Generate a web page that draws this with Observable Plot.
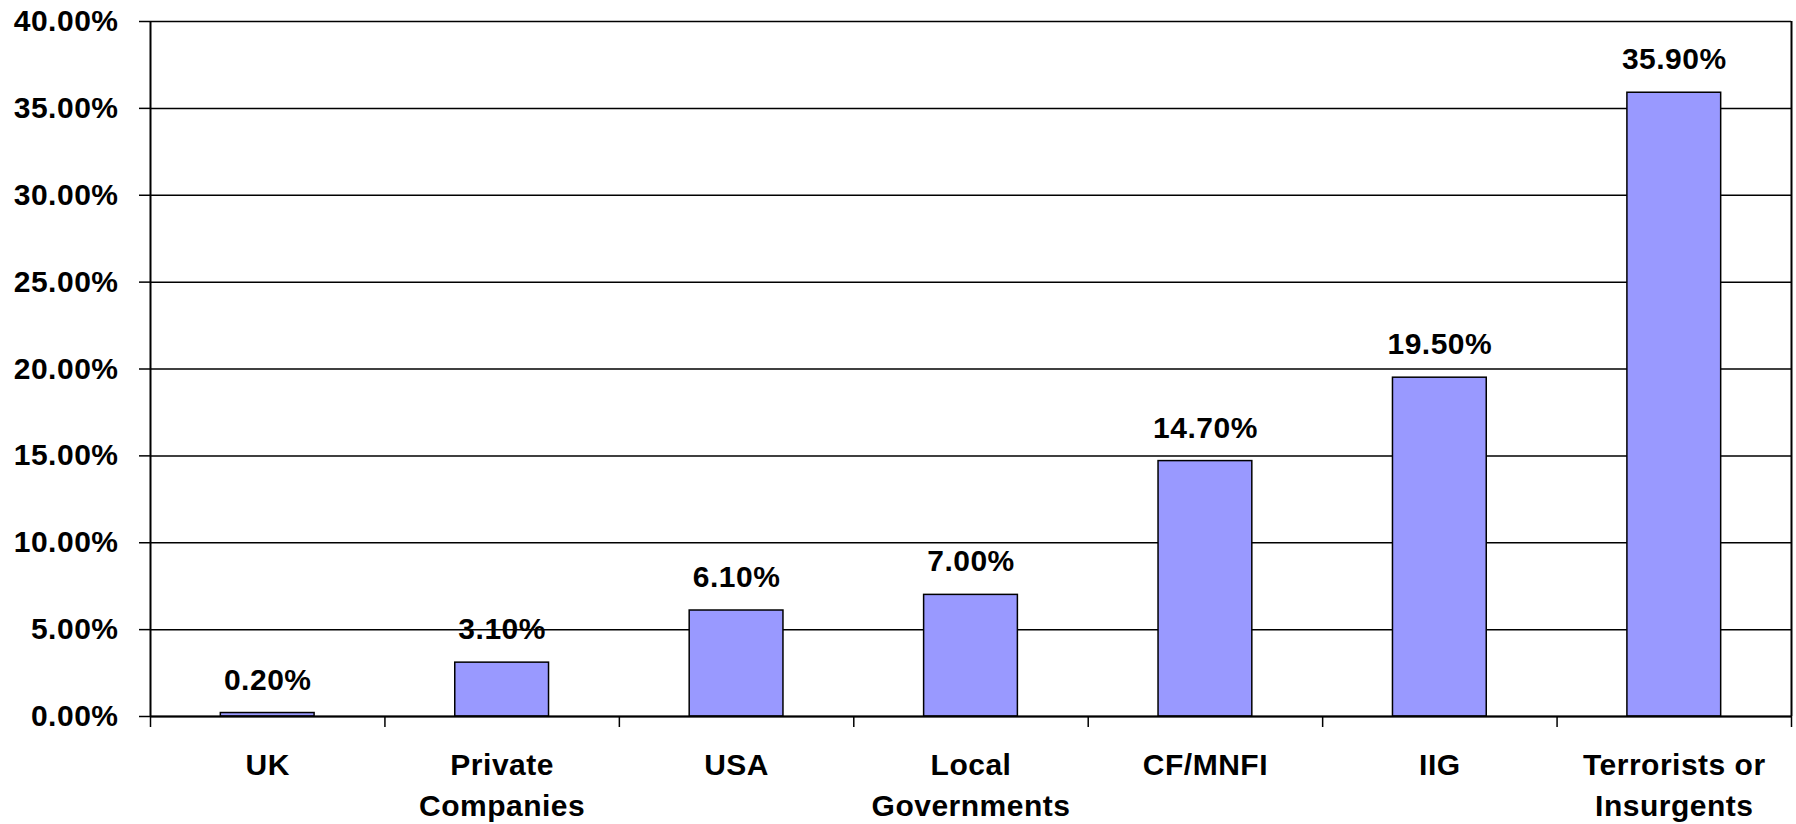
<!DOCTYPE html>
<html><head><meta charset="utf-8">
<script src="https://cdn.jsdelivr.net/npm/d3@7"></script>
<script src="https://cdn.jsdelivr.net/npm/@observablehq/plot@0.6"></script>
<style>body{margin:0;background:#fff}</style>
</head><body><div id="chart"></div>
<script>
const categories = ["UK", "Private\nCompanies", "USA", "Local\nGovernments", "CF/MNFI", "IIG", "Terrorists or\nInsurgents"];
const values = [0.2, 3.1, 6.1, 7.0, 14.7, 19.5, 35.9];
const yTicks = [0, 5, 10, 15, 20, 25, 30, 35, 40];

const data = categories.map((c, i) => ({category: c, index: i, value: values[i]}));
const W = 1796, H = 824, mL = 150, mR = 5, mT = 21, mB = 108;
const band = (W - mL - mR) / categories.length;
const inset = band * 0.3;
const pct = d => d.toFixed(2) + "%";

const chart = Plot.plot({
  width: W, height: H, marginLeft: mL, marginRight: mR, marginTop: mT, marginBottom: mB,
  style: {fontFamily: "'Liberation Sans', Arial, sans-serif", fontWeight: "bold", fontSize: "30px", color: "#000", background: "#fff", letterSpacing: "0.5px"},
  x: {domain: [0, categories.length]},
  y: {domain: [0, 40]},
  marks: [
    Plot.ruleY(yTicks, {stroke: "#000", strokeWidth: 1.5}),
    Plot.rectY(data, {x1: "index", x2: d => d.index + 1, y1: 0, y2: "value", fill: "#9999FF", stroke: "#000", strokeWidth: 1.5, insetLeft: inset, insetRight: inset}),
    Plot.ruleX([0, categories.length], {stroke: "#000", strokeWidth: 2}),
    Plot.ruleY([0], {stroke: "#000", strokeWidth: 2}),
    Plot.axisY({ticks: yTicks, tickSize: 11, tickPadding: 21, tickFormat: pct, strokeWidth: 1.5, fontSize: 30, fontWeight: "bold", label: null}),
    Plot.axisX({ticks: d3.range(categories.length + 1), tickSize: 11, tickFormat: () => "", strokeWidth: 1.5, label: null}),
    Plot.text(data, {x: d => d.index + 0.5, y: "value", text: d => pct(d.value), dy: -33, lineAnchor: "middle", fontSize: 30, fontWeight: "bold"}),
    Plot.text(data, {x: d => d.index + 0.5, y: 0, text: "category", lineAnchor: "top", dy: 29, lineHeight: 1.37, fontSize: 30, fontWeight: "bold"})
  ]
});
document.getElementById("chart").appendChild(chart);
</script>
</body></html>
